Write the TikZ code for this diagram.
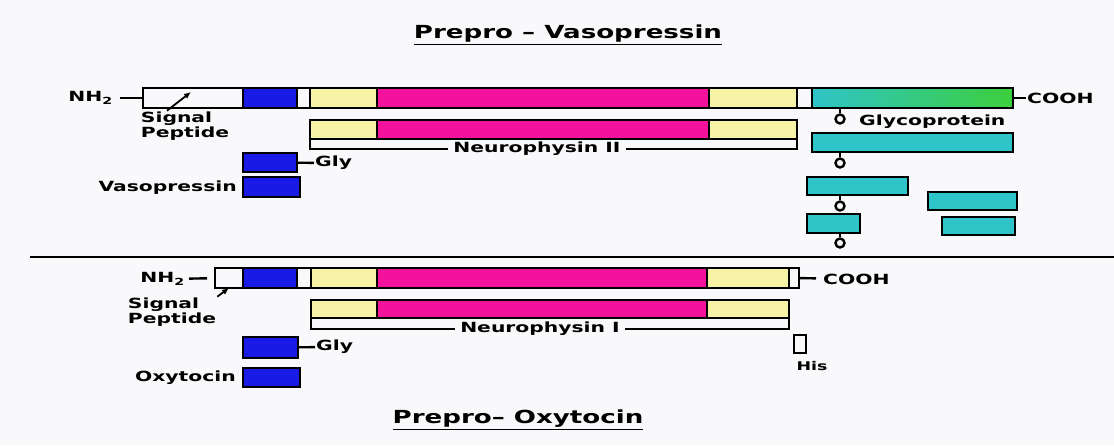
\documentclass[tikz,border=0pt]{standalone}
\usepackage{fontspec}
\setmainfont{DejaVu Sans}[FakeStretch=1.45]
\usetikzlibrary{arrows.meta,positioning}
\definecolor{VPBlue}{HTML}{1A1AE6}
\definecolor{VPYellow}{HTML}{F6F2A6}
\definecolor{VPMagenta}{HTML}{F2129C}
\definecolor{VPCyan}{HTML}{2EC4C8}
\definecolor{VPGreen}{HTML}{3CCF3C}
\definecolor{VPPaper}{HTML}{F9F9FB}

\begin{document}
\begin{tikzpicture}[
    x=1pt, y=-1pt,
    seg/.style={draw, line width=2.6pt, outer sep=0pt, inner sep=0pt,
      minimum height=20pt, anchor=west},
    glycan/.style={circle, draw, line width=2.4pt, minimum size=9pt, inner sep=0pt},
    lbl/.style={font=\fontsize{14}{13}\selectfont\bfseries, inner sep=1pt},
    title/.style={font=\fontsize{18}{20}\selectfont\bfseries},
    arr/.style={-{Latex[length=7pt,width=6pt]}, line width=1.8pt},
    link/.style={line width=2.4pt}
  ]
    \fill[VPPaper] (0,0) rectangle (1114,445);
    \useasboundingbox (0,0) rectangle (1114,445);

    \node[title] (vtitle) at (568,35) {\underline{Prepro -- Vasopressin}};
    \node[title] (otitle) at (518,420) {\underline{Prepro-- Oxytocin}};

    \node[seg, minimum width=100pt] (vsig) at (143,98) {};
    \node[seg, fill=VPBlue, minimum width=54pt, right=0pt of vsig] (vblue) {};
    \node[seg, minimum width=13pt, right=0pt of vblue] (vgap1) {};
    \node[seg, fill=VPYellow, minimum width=67pt, right=0pt of vgap1] (vyel1) {};
    \node[seg, fill=VPMagenta, minimum width=332pt, right=0pt of vyel1] (vmag) {};
    \node[seg, fill=VPYellow, minimum width=88pt, right=0pt of vmag] (vyel2) {};
    \node[seg, minimum width=15pt, right=0pt of vyel2] (vgap2) {};
    \node[seg, left color=VPCyan, right color=VPGreen, minimum width=201pt, right=0pt of vgap2] (vglyc) {};

    \node[lbl, anchor=east] (vnh) at (114,98) {NH\textsubscript{2}};
    \node[lbl, anchor=west] (vcooh) at (1026,98) {COOH};
    \draw[link, shorten <=6pt] (vnh) -- (vsig);
    \draw[link] (vglyc) -- (vcooh);

    \node[lbl, align=left] (vsigtxt) at (185,126) {Signal\\Peptide};
    \coordinate (vsigtip) at (191,92);
    \draw[arr] ([xshift=-18pt]vsigtxt.north) -- (vsigtip);

    \node[seg, fill=VPYellow, minimum width=67pt, minimum height=19pt] (n2yel1) at (310,129.5) {};
    \node[seg, fill=VPMagenta, minimum width=332pt, minimum height=19pt, right=0pt of n2yel1] (n2mag) {};
    \node[seg, fill=VPYellow, minimum width=88pt, minimum height=19pt, right=0pt of n2mag] (n2yel2) {};
    \node[lbl, inner sep=5pt] (n2lbl) at (537,149) {Neurophysin II};
    \draw[link] (n2yel1.south west) |- (n2lbl.west);
    \draw[link] (n2lbl.east) -| (n2yel2.south east);

    \node[seg, fill=VPCyan, minimum width=201pt, minimum height=19pt] (gp2) at (812,142.5) {};
    \node[seg, fill=VPCyan, minimum width=101pt, minimum height=18pt] (gp3) at (807,186) {};
    \node[seg, fill=VPCyan, minimum width=89pt, minimum height=18pt] (gp4) at (928,201) {};
    \node[seg, fill=VPCyan, minimum width=53pt, minimum height=19pt] (gp5) at (807,223.5) {};
    \node[seg, fill=VPCyan, minimum width=73pt, minimum height=18pt] (gp6) at (942,226) {};
    \node[lbl, anchor=west] (gplbl) at (858,122) {Glycoprotein};

    \node[glycan] (gc1) at (840,119) {};
    \node[glycan] (gc2) at (840,163) {};
    \node[glycan] (gc3) at (840,206) {};
    \node[glycan] (gc4) at (840,243) {};
    \draw[link] (gc1) -- (gc1 |- vglyc.south);
    \draw[link] (gc2) -- (gc2 |- gp2.south);
    \draw[link] (gc3) -- (gc3 |- gp3.south);
    \draw[link] (gc4) -- (gc4 |- gp5.south);

    \node[seg, fill=VPBlue, minimum width=54pt, minimum height=19pt] (vgly) at (243,162.5) {};
    \node[lbl, anchor=west] (vglytxt) at (314,163) {Gly};
    \draw[link] (vgly) -- (vglytxt);
    \node[seg, fill=VPBlue, minimum width=57pt, minimum height=20pt] (vaso) at (243,187) {};
    \node[lbl, anchor=east] (vasotxt) at (238,188) {Vasopressin};

    \draw[line width=1.8pt] (30,257) -- (1114,257);

    \node[seg, minimum width=28pt] (osig) at (215,278) {};
    \node[seg, fill=VPBlue, minimum width=54pt, right=0pt of osig] (oblue) {};
    \node[seg, minimum width=14pt, right=0pt of oblue] (ogap1) {};
    \node[seg, fill=VPYellow, minimum width=66pt, right=0pt of ogap1] (oyel1) {};
    \node[seg, fill=VPMagenta, minimum width=330pt, right=0pt of oyel1] (omag) {};
    \node[seg, fill=VPYellow, minimum width=82pt, right=0pt of omag] (oyel2) {};
    \node[seg, minimum width=10pt, right=0pt of oyel2] (ogap2) {};

    \node[lbl, anchor=east] (onh) at (186,279) {NH\textsubscript{2}};
    \node[lbl, anchor=west] (ocooh) at (822,279) {COOH};
    \draw[link, shorten <=3pt, shorten >=8pt] (onh) -- (osig);
    \draw[link, shorten >=6pt] (ogap2) -- (ocooh);

    \node[lbl, align=left] (osigtxt) at (172,312) {Signal\\Peptide};
    \draw[arr] (osigtxt.north east) -- (osig.south);

    \node[seg, fill=VPYellow, minimum width=66pt, minimum height=18pt] (n1yel1) at (311,309) {};
    \node[seg, fill=VPMagenta, minimum width=330pt, minimum height=18pt, right=0pt of n1yel1] (n1mag) {};
    \node[seg, fill=VPYellow, minimum width=82pt, minimum height=18pt, right=0pt of n1mag] (n1yel2) {};
    \node[lbl, inner sep=5pt] (n1lbl) at (540,329) {Neurophysin I};
    \draw[link] (n1yel1.south west) |- (n1lbl.west);
    \draw[link] (n1lbl.east) -| (n1yel2.south east);

    \node[seg, anchor=center, minimum width=12pt, minimum height=18pt] (ohis) at (800,344) {};
    \node[lbl, font=\fontsize{12}{12}\selectfont\bfseries] (ohistxt) at (812,366) {His};

    \node[seg, fill=VPBlue, minimum width=55pt, minimum height=21pt] (ogly) at (243,347.5) {};
    \node[lbl, anchor=west] (oglytxt) at (315,347) {Gly};
    \draw[link] (ogly) -- (oglytxt);
    \node[seg, fill=VPBlue, minimum width=57pt, minimum height=19pt] (oxy) at (243,377.5) {};
    \node[lbl, anchor=east] (oxytxt) at (237,378) {Oxytocin};
  \end{tikzpicture}
\end{document}
